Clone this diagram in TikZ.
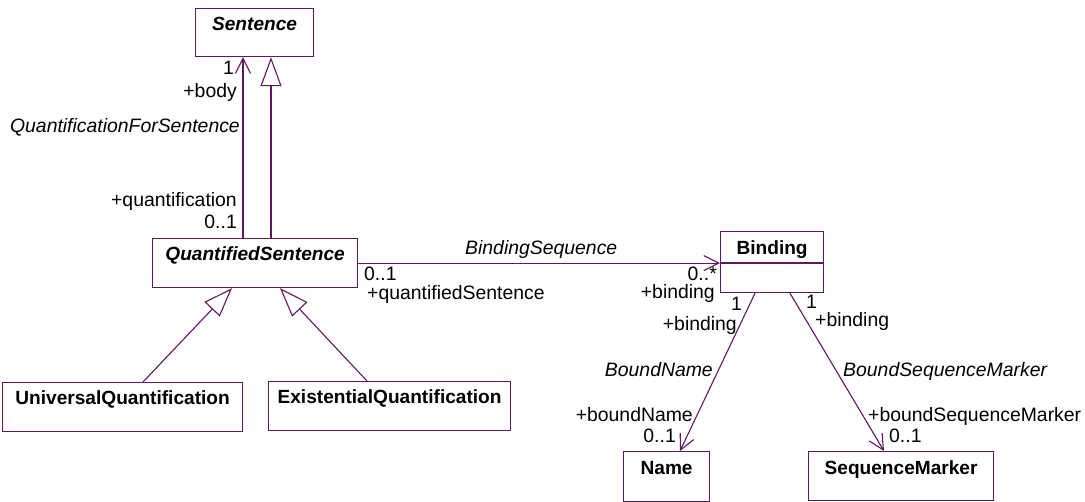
\documentclass[tikz,border=0pt]{standalone}
\usepackage{fontspec}
\setmainfont{Liberation Sans}
\usetikzlibrary{arrows.meta}
\definecolor{uml}{RGB}{95,25,95}
\begin{document}
\begin{tikzpicture}[x=1pt,y=-1pt, font=\fontsize{19.4}{23}\selectfont,
  box/.style={draw=uml, line width=1.2pt, fill=white, inner sep=0pt, anchor=north west},
  cname/.style={inner sep=0pt, anchor=base, font=\fontsize{19.1}{23}\selectfont\bfseries},
  assoc/.style={draw=uml, line width=1.1pt},
  nav/.style={assoc, -{Straight Barb[length=15pt,width=15pt,line width=1.1pt]}},
  gen/.style={assoc, -{Triangle[open,length=29pt,width=21pt,fill=white,line width=1.1pt]}},
  lbe/.style={inner sep=0pt, anchor=base east},
  lbw/.style={inner sep=0pt, anchor=base west},
]
\useasboundingbox (0,0) rectangle (1085,502);

% classes
\node[box, minimum width=118pt, minimum height=48pt] (sent) at (195,8) {};
\node[box, minimum width=205pt, minimum height=49pt] (qs) at (152,238) {};
\node[box, minimum width=103pt, minimum height=61pt] (bind) at (720,231) {};
\node[box, minimum width=86pt, minimum height=50pt] (name) at (623,451) {};
\node[box, minimum width=185pt, minimum height=49pt] (sm) at (808,451) {};
\node[box, minimum width=240pt, minimum height=49pt] (uq) at (2,382) {};
\node[box, minimum width=242pt, minimum height=49pt] (eq) at (268,381) {};
\draw[assoc, line width=1.2pt] ([yshift=-32pt]bind.north west) -- ([yshift=-32pt]bind.north east);

\node[cname] (tsent) at ([yshift=-23pt]sent.north) {\itshape Sentence};
\node[cname] (tqs) at ([yshift=-23pt]qs.north) {\itshape QuantifiedSentence};
\node[cname] (tbind) at ([yshift=-24pt]bind.north) {Binding};
\node[cname] (tname) at ([yshift=-24pt]name.north) {Name};
\node[cname] (tsm) at ([yshift=-24pt]sm.north) {SequenceMarker};
\node[cname] (tuq) at ([yshift=-23pt]uq.north) {UniversalQuantification};
\node[cname] (teq) at ([yshift=-23pt]eq.north) {ExistentialQuantification};

% connectors
\draw[nav] ([xshift=91pt]qs.north west) -- ([xshift=48pt]sent.south west);
\draw[gen] ([xshift=119pt]qs.north west) -- ([xshift=76pt]sent.south west);
\draw[gen] ([xshift=141pt]uq.north west) -- ([xshift=80pt]qs.south west);
\draw[gen] ([xshift=99pt]eq.north west) -- ([xshift=128pt]qs.south west);
\draw[nav] (qs.east) -- (qs.east -| bind.west);
\draw[nav] ([xshift=35pt]bind.south west) -- ([xshift=57pt]name.north west);
\draw[nav] ([xshift=70pt]bind.south west) -- ([xshift=76pt]sm.north west);

% labels
\node[lbe] (l1) at (234,75) {1};
\node[lbe] (l2) at (237,98) {+body};
\node[lbe] (l3) at (240,133) {\itshape QuantificationForSentence};
\node[lbe] (l4) at (237,207) {+quantification};
\node[lbe] (l5) at (237,229) {0..1};
\node[lbw] (l6) at (465,255) {\itshape BindingSequence};
\node[lbw] (l7) at (364,281) {0..1};
\node[lbw] (l8) at (367,300) {+quantifiedSentence};
\node[lbe] (l9) at (717,281) {0..*};
\node[lbe] (l10) at (715,299) {+binding};
\node[lbe] (l11) at (742,311) {1};
\node[lbe] (l12) at (737,331) {+binding};
\node[lbw] (l13) at (806,309) {1};
\node[lbw] (l14) at (815,327) {+binding};
\node[lbe] (l15) at (713,377) {\itshape BoundName};
\node[lbw] (l16) at (843,377) {\itshape BoundSequenceMarker};
\node[lbe] (l17) at (693,422) {+boundName};
\node[lbe] (l18) at (676,443) {0..1};
\node[lbw] (l19) at (868,422) {+boundSequenceMarker};
\node[lbw] (l20) at (889,443) {0..1};
\end{tikzpicture}
\end{document}
